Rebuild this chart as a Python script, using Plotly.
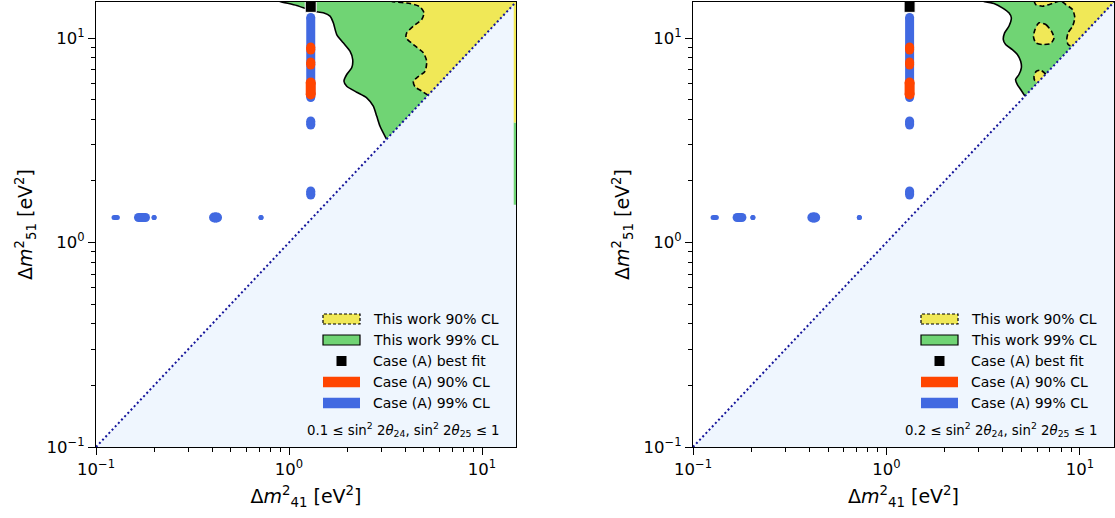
import math
import plotly.graph_objects as go

# ---------------- data ----------------
AX_MIN, AX_MAX = 0.1, 15.0
TICK_VALS = [0.1, 1, 10]
TICK_TEXT = ["10<sup>\u22121</sup>", "10<sup>0</sup>", "10<sup>1</sup>"]
MINOR_VALS = [0.2, 0.3, 0.4, 0.5, 0.6, 0.7, 0.8, 0.9, 2, 3, 4, 5, 6, 7, 8, 9]

# left panel: this work 99% CL (solid) and 90% CL (dashed) contours
L99_X = [0.87, 0.898, 1.096, 1.336, 1.505, 1.631, 1.696, 1.767, 1.911, 2.07, 2.138,
         2.113, 1.991, 1.927, 1.991, 2.243, 2.527, 2.734, 2.847, 2.962, 3.20]
L99_Y = [15.3, 15.1, 14.42, 13.52, 13.28, 12.79, 11.87, 10.40, 9.47, 8.62, 7.85,
         7.15, 6.63, 6.15, 5.81, 5.43, 5.10, 4.64, 4.15, 3.70, 3.20]
L90_X = [3.38, 3.405, 4.236, 4.773, 5.006, 4.871, 4.406, 4.072, 4.038, 4.406, 4.965,
         5.17, 5.067, 4.589, 4.406, 4.496, 4.871, 5.25]
L90_Y = [15.3, 15.1, 14.75, 14.21, 13.28, 12.32, 11.42, 10.60, 10.02, 9.29, 8.47,
         7.70, 6.88, 6.39, 6.15, 5.77, 5.50, 5.25]
# thin strip at the right edge of the left panel
EDGE_X0 = 14.6
EDGE_90_YLO = 3.86
EDGE_99_YLO = 1.53

# right panel contours
R99_X = [3.18, 3.592, 3.97, 4.295, 4.42, 4.295, 4.08, 4.018, 4.13, 4.473, 4.748,
         4.94, 4.98, 4.84, 4.65, 4.748, 4.94, 5.2]
R99_Y = [15.1, 14.75, 14.05, 13.28, 12.56, 11.42, 10.6, 9.83, 9.29, 8.78, 8.31,
         7.70, 7.15, 6.63, 6.27, 5.92, 5.60, 5.2]
R90A_X = [5.79, 5.91, 6.40, 7.21, 7.96, 8.45, 9.16, 9.41, 9.16, 8.69, 8.55, 8.69, 9.1]
R90A_Y = [15.2, 14.58, 14.31, 14.75, 15.2, 14.58, 13.79, 12.56, 11.42, 10.60, 9.83, 9.29, 9.1]
R90B_X = [6.145, 6.66, 7.125, 7.35, 7.07, 6.40, 5.91, 5.75, 5.86, 6.03, 6.145]
R90B_Y = [11.87, 11.64, 10.80, 10.02, 9.40, 9.29, 9.47, 10.20, 11.00, 11.64, 11.87]
R90C_X = [6.66, 6.27, 5.94, 5.79, 5.84, 6.03]
R90C_Y = [6.66, 6.96, 6.86, 6.50, 6.19, 6.03]

# Case (A) allowed points (cluster extents)
COL_X = [1.296, 1.317]          # left, right panel
BEST_Y = 14.2
BLUE_V_LO = [5.12, 3.75, 1.707]
BLUE_V_HI = [12.6, 3.93, 1.786]
ORANGE_V_LO = [8.74, 7.38, 5.29]
ORANGE_V_HI = [9.04, 7.63, 6.06]
ROW_Y = 1.325
BLUE_H_LO = [[0.124, 0.166, 0.200, 0.409, 0.716], [0.127, 0.169, 0.204, 0.414, 0.724]]
BLUE_H_HI = [[0.129, 0.1805, 0.200, 0.4236, 0.716], [0.132, 0.179, 0.204, 0.428, 0.724]]

LEGEND_LABELS = ["This work 90% CL", "This work 99% CL", "Case (A) best fit",
                 "Case (A) 90% CL", "Case (A) 99% CL"]
NOTES = ["0.1 \u2264 sin<sup>2</sup> 2<i>\u03b8</i><sub>24</sub>, sin<sup>2</sup> 2<i>\u03b8</i><sub>25</sub> \u2264 1",
         "0.2 \u2264 sin<sup>2</sup> 2<i>\u03b8</i><sub>24</sub>, sin<sup>2</sup> 2<i>\u03b8</i><sub>25</sub> \u2264 1"]

# ---------------- style ----------------
W, H = 1115, 518
FONT = "DejaVu Sans"
YELLOW = "#F0E857"
GREEN = "#70D474"
ORANGE = "#FF4500"
BLUE = "#4169E1"
LIGHT = "#EFF6FE"
DIAG = "#15159A"
V_SIZES = [9, 9, 9]
O_SIZES = [9, 9, 10]
H_SIZES = [5, 9, 5, 10, 5]

PANELS = [(96, 516), (693, 1114)]
TOP, BOTTOM = 2, 447

fig = go.Figure()


def add(tr, i):
    tr.xaxis = "x" if i == 0 else "x2"
    tr.yaxis = "y" if i == 0 else "y2"
    tr.showlegend = False
    tr.hoverinfo = "skip"
    fig.add_trace(tr)


def fill_poly(xs, ys, color, i, close_top=True):
    if close_top:
        px = list(xs) + [16, xs[0]]
        py = list(ys) + [16, 16]
    else:
        px, py = list(xs), list(ys)
    add(go.Scatter(x=px, y=py, mode="lines", fill="toself", fillcolor=color,
                   line=dict(width=0, color=color)), i)


def boundary(xs, ys, dash, i):
    add(go.Scatter(x=xs, y=ys, mode="lines",
                   line=dict(color="black", width=1.6, dash=dash, shape="spline", smoothing=0.6)), i)


for i in range(2):
    # forbidden region below diagonal
    add(go.Scatter(x=[AX_MIN * 0.5, 16, 16], y=[AX_MIN * 0.5, 16, AX_MIN * 0.5], mode="lines",
                   fill="toself", fillcolor=LIGHT, line=dict(width=0)), i)

fill_poly(L99_X, L99_Y, GREEN, 0)
fill_poly(L90_X, L90_Y, YELLOW, 0)
add(go.Scatter(x=[EDGE_X0, 16, 16, EDGE_X0], y=[EDGE_99_YLO, EDGE_99_YLO, EDGE_90_YLO, EDGE_90_YLO],
               mode="lines", fill="toself", fillcolor=GREEN, line=dict(width=0)), 0)
add(go.Scatter(x=[EDGE_X0, 16, 16, EDGE_X0], y=[EDGE_90_YLO, EDGE_90_YLO, 16, 16],
               mode="lines", fill="toself", fillcolor=YELLOW, line=dict(width=0)), 0)
boundary(L99_X, L99_Y, "solid", 0)
boundary(L90_X, L90_Y, "5px,3px", 0)

fill_poly(R99_X, R99_Y, GREEN, 1)
fill_poly(R90A_X, R90A_Y, YELLOW, 1)
fill_poly(R90B_X, R90B_Y, YELLOW, 1, close_top=False)
fill_poly(R90C_X, R90C_Y, YELLOW, 1, close_top=False)
boundary(R99_X, R99_Y, "solid", 1)
boundary(R90A_X, R90A_Y, "5px,3px", 1)
boundary(R90B_X, R90B_Y, "5px,3px", 1)
boundary(R90C_X, R90C_Y, "5px,3px", 1)

for i in range(2):
    # diagonal
    add(go.Scatter(x=[AX_MIN, 16], y=[AX_MIN, 16], mode="lines",
                   line=dict(color=DIAG, width=2, dash="2px,2.6px")), i)
    cx = COL_X[i]
    for lo, hi, s in zip(BLUE_V_LO, BLUE_V_HI, V_SIZES):
        add(go.Scatter(x=[cx, cx], y=[lo, hi], mode="lines+markers",
                       line=dict(color=BLUE, width=s), marker=dict(color=BLUE, size=s)), i)
    for lo, hi, s in zip(BLUE_H_LO[i], BLUE_H_HI[i], H_SIZES):
        add(go.Scatter(x=[lo, hi], y=[ROW_Y, ROW_Y], mode="lines+markers",
                       line=dict(color=BLUE, width=s), marker=dict(color=BLUE, size=s)), i)
    for lo, hi, s in zip(ORANGE_V_LO, ORANGE_V_HI, O_SIZES):
        add(go.Scatter(x=[cx, cx], y=[lo, hi], mode="lines+markers",
                       line=dict(color=ORANGE, width=s), marker=dict(color=ORANGE, size=s)), i)
    add(go.Scatter(x=[cx], y=[BEST_Y], mode="markers",
                   marker=dict(symbol="square", size=11, color="black",
                               line=dict(color="white", width=1))), i)

# ---------------- axes ----------------
lr = [math.log10(AX_MIN), math.log10(AX_MAX)]
ydom = [1 - BOTTOM / H, 1 - TOP / H]
x_title = "\u0394<i>m</i><sup>2</sup><sub>41</sub> [eV<sup>2</sup>]"
y_title = "\u0394<i>m</i><sup>2</sup><sub>51</sub> [eV<sup>2</sup>]"


def axis(dom, anchor, title, standoff):
    return dict(domain=dom, anchor=anchor, type="log", range=lr, showgrid=False, zeroline=False,
                automargin=False,
                showline=True, mirror=True, linecolor="black", linewidth=1.2,
                ticks="outside", ticklen=7, tickwidth=1.2, tickcolor="black",
                tickvals=TICK_VALS, ticktext=TICK_TEXT,
                tickfont=dict(family=FONT, size=16.5, color="black"),
                minor=dict(tickvals=MINOR_VALS, ticks="outside", ticklen=4, tickwidth=0.9,
                           tickcolor="black", showgrid=False),
                title=dict(text=title, font=dict(family=FONT, size=19, color="black"),
                           standoff=standoff))


layout = dict(width=W, height=H, autosize=False, margin=dict(l=0, r=0, t=0, b=0, autoexpand=False),
              paper_bgcolor="white", plot_bgcolor="white", showlegend=False,
              font=dict(family=FONT, color="black"))
for i, (a, b) in enumerate(PANELS):
    sx = "" if i == 0 else "2"
    layout["xaxis" + sx] = axis([a / W, b / W], "y" + sx, x_title, 11)
    layout["yaxis" + sx] = axis(ydom, "x" + sx, y_title, 8)

shapes, annotations = [], []
PH = BOTTOM - TOP
ROWS = [128, 107, 86, 65, 44]
for i, (a, b) in enumerate(PANELS):
    sx = "" if i == 0 else "2"
    pw = b - a
    xr, yr = "x" + sx + " domain", "y" + sx + " domain"
    fx = lambda p: 1 - p / pw
    fy = lambda p: p / PH
    rx0, rx1 = fx(193), fx(156)
    shapes.append(dict(type="rect", xref=xr, yref=yr, x0=rx0, x1=rx1, y0=fy(ROWS[0] - 5), y1=fy(ROWS[0] + 5),
                       fillcolor=YELLOW, line=dict(color="black", width=1.2, dash="3px,2px")))
    shapes.append(dict(type="rect", xref=xr, yref=yr, x0=rx0, x1=rx1, y0=fy(ROWS[1] - 5), y1=fy(ROWS[1] + 5),
                       fillcolor=GREEN, line=dict(color="black", width=1.2)))
    shapes.append(dict(type="rect", xref=xr, yref=yr, x0=fx(179.5), x1=fx(169.5), y0=fy(ROWS[2] - 5),
                       y1=fy(ROWS[2] + 5), fillcolor="black", line=dict(width=0)))
    shapes.append(dict(type="rect", xref=xr, yref=yr, x0=rx0, x1=rx1, y0=fy(ROWS[3] - 5.3), y1=fy(ROWS[3] + 5.3),
                       fillcolor=ORANGE, line=dict(width=0)))
    shapes.append(dict(type="rect", xref=xr, yref=yr, x0=rx0, x1=rx1, y0=fy(ROWS[4] - 5.3), y1=fy(ROWS[4] + 5.3),
                       fillcolor=BLUE, line=dict(width=0)))
    for r, lab in zip(ROWS, LEGEND_LABELS):
        annotations.append(dict(xref=xr, yref=yr, x=fx(145), y=fy(r), text=lab, showarrow=False,
                                xanchor="left", yanchor="middle",
                                font=dict(family=FONT, size=14, color="black")))
    annotations.append(dict(xref=xr, yref=yr, x=fx(14), y=fy(18), text=NOTES[i], showarrow=False,
                            xanchor="right", yanchor="middle",
                            font=dict(family=FONT, size=13.3, color="black")))
layout["shapes"] = shapes
layout["annotations"] = annotations
fig.update_layout(**layout)
fig.write_html("out.html", config={"displayModeBar": False},
               post_script="document.body.style.margin='0px';document.body.style.overflow='hidden';")
